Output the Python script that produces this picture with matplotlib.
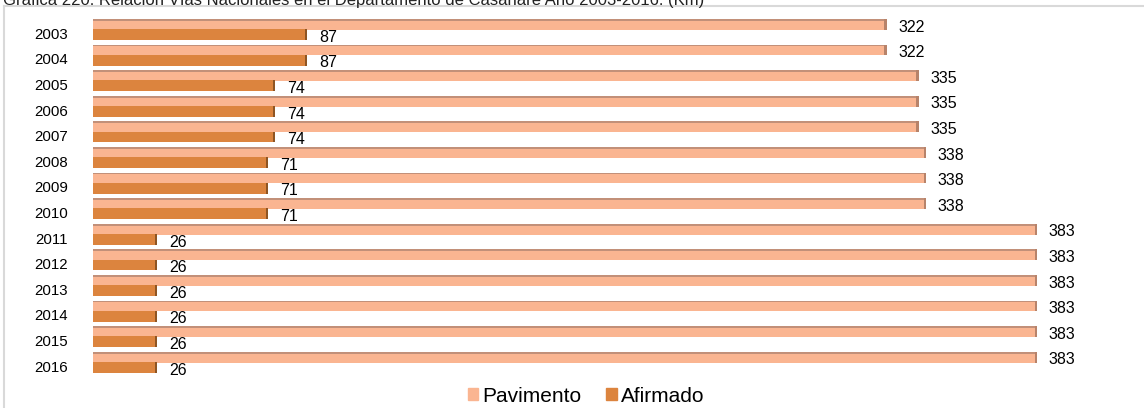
import matplotlib
matplotlib.use('Agg')
import matplotlib.pyplot as plt
from matplotlib.lines import Line2D
from matplotlib.patches import Patch

# Datos (Km)
years = ['2003', '2004', '2005', '2006', '2007', '2008', '2009',
         '2010', '2011', '2012', '2013', '2014', '2015', '2016']
pavimento = [322, 322, 335, 335, 335, 338, 338, 338, 383, 383, 383, 383, 383, 383]
afirmado = [87, 87, 74, 74, 74, 71, 71, 71, 26, 26, 26, 26, 26, 26]

col_pav = '#FAB591'
col_afi = '#DC843E'
W, H = 1144, 408

fig = plt.figure(figsize=(W / 100, H / 100), dpi=100)

# marco gris (solo borde izquierdo y superior visibles)
fig.add_artist(Line2D([4 / W, 4 / W], [0, 1 - 6 / H], color='#d9d9d9', lw=1.5))
fig.add_artist(Line2D([4 / W, 1], [1 - 6 / H, 1 - 6 / H], color='#d9d9d9', lw=1.5))

# titulo recortado por arriba
fig.text(3 / W, 1 - 5 / H,
         'Gráfica 220. Relación Vías Nacionales en el Departamento de Casanare Año 2003-2016. (Km)',
         fontsize=12, family='Liberation Sans', va='baseline', ha='left', color='#222222')

px_unit = 944 / 383
xmax = 420
row = 25.6
ax_left = 93
ax_top = 16.7
ax = fig.add_axes([ax_left / W, 1 - (ax_top + 14 * row) / H, xmax * px_unit / W, 14 * row / H])

ys = list(range(len(years)))
bh = 0.42
cap = 1.0  # extremo oscuro (efecto 3D)

ax.barh([y - 0.2 for y in ys], pavimento, height=bh, color=col_pav)
ax.barh([y + 0.2 for y in ys], afirmado, height=bh, color=col_afi)
# efecto 3D: borde superior y extremo derecho
ax.barh([y - 0.2 - bh / 2 + 0.035 for y in ys], pavimento, height=0.07, color='#C29079')
ax.barh([y - 0.2 for y in ys], [cap] * len(ys), left=[v - cap for v in pavimento],
        height=bh, color='#B7836A')
ax.barh([y + 0.2 for y in ys], [cap] * len(ys), left=[v - cap for v in afirmado],
        height=bh, color='#8E5523')

for y, v in zip(ys, pavimento):
    ax.annotate(str(v), (v, y - 0.2), xytext=(8.5, -2), textcoords='offset points',
                va='center', ha='left', fontsize=11.5, family='Liberation Sans')
for y, v in zip(ys, afirmado):
    ax.annotate(str(v), (v, y + 0.2), xytext=(8.5, -2), textcoords='offset points',
                va='center', ha='left', fontsize=11.5, family='Liberation Sans')

ax.set_xlim(0, xmax)
ax.set_ylim(13.5, -0.5)
ax.set_yticks([y + 0.15 for y in ys])
ax.set_yticklabels(years, fontsize=10.8, family='Liberation Sans')
ax.tick_params(axis='y', length=0, pad=18)
ax.set_xticks([])
for s in ax.spines.values():
    s.set_visible(False)

handles = [Patch(color=col_pav, label='Pavimento'), Patch(color=col_afi, label='Afirmado')]
fig.legend(handles=handles, loc='center', bbox_to_anchor=(586 / W, 1 - 396 / H), ncol=2,
           frameon=False, prop={'family': 'Liberation Sans', 'size': 15},
           handlelength=0.5, handleheight=0.5, handletextpad=0.2, columnspacing=1.2)

fig.savefig('out.png', dpi=100)
